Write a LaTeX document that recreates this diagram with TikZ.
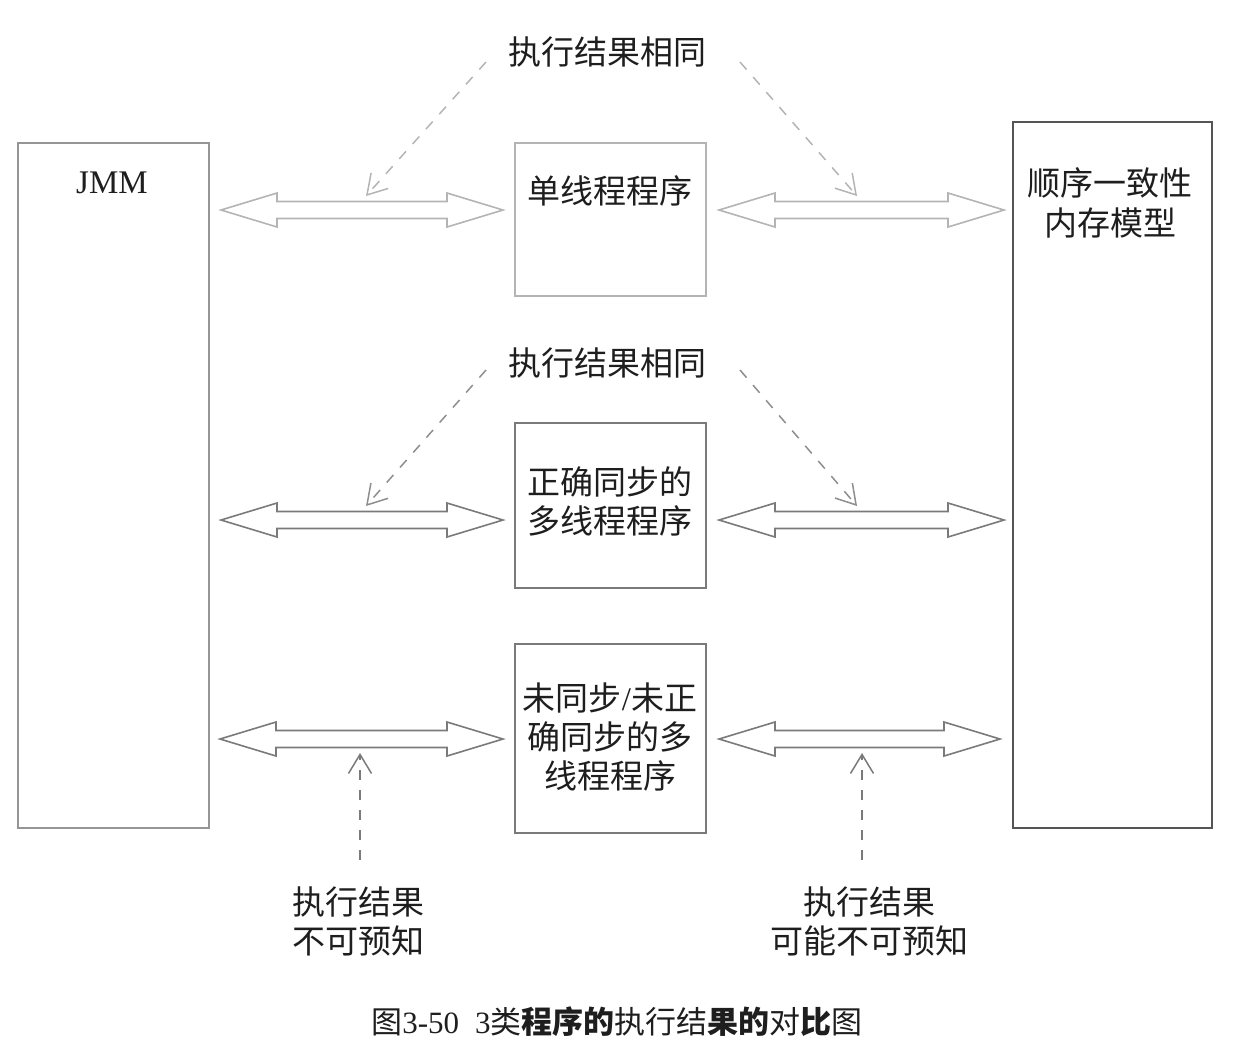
\documentclass[tikz,border=0pt]{standalone}
\usepackage{fontspec}
\setmainfont{Liberation Serif}
\newfontfamily\cjk{Noto Sans CJK SC}
\usetikzlibrary{calc,arrows.meta}

\definecolor{inkc}{HTML}{1E1E1E}
\definecolor{lightline}{HTML}{B4B4B4}
\definecolor{midline}{HTML}{7A7A7A}
\definecolor{darkline}{HTML}{555555}

% hollow double-headed arrow between two named coordinates
\newcommand\dblarrow[3][]{%
  \draw[line width=0.8pt,line join=miter,#1] (#2) -- ($(#2)+(56,-17)$) -- ($(#2)+(56,-8.5)$)
    -- ($(#3)+(-56,-8.5)$) -- ($(#3)+(-56,-17)$) -- (#3) -- ($(#3)+(-56,17)$)
    -- ($(#3)+(-56,8.5)$) -- ($(#2)+(56,8.5)$) -- ($(#2)+(56,17)$) -- cycle;}

\begin{document}
\begin{tikzpicture}[x=0.5pt,y=-0.5pt,
  frame/.style={draw,line width=0.8pt,inner sep=0pt},
  txt/.style={text=inkc,font=\cjk\fontsize{16.5pt}{19.5pt}\selectfont,align=center,inner sep=0pt},
  note/.style={dashed,dash pattern=on 5pt off 5pt,line width=0.75pt,
    -{Straight Barb[length=9.5pt,width=11.5pt,line width=0.75pt]}}]
\useasboundingbox (0,0) rectangle (1234,1057);

% outer columns
\node[frame,draw=midline!80,minimum width=95.5pt,minimum height=342.5pt] (jmm) at (113.5,485.5) {};
\node[text=inkc,font=\fontsize{16.5pt}{19pt}\selectfont,inner sep=0pt] (jmmt) at (112,183) {JMM};
\node[frame,draw=darkline,minimum width=99.5pt,minimum height=353pt] (sc) at (1112.5,475) {};
\node[txt,font=\cjk\fontsize{16.5pt}{20pt}\selectfont] (sct) at (1110,203) {顺序一致性\\内存模型};

% program boxes
\node[frame,draw=lightline,minimum width=95.5pt,minimum height=76.5pt] (p1) at (610.5,219.5) {};
\node[txt] (p1t) at (610,191) {单线程程序};
\node[frame,draw=midline,minimum width=95.5pt,minimum height=82.5pt] (p2) at (610.5,505.5) {};
\node[txt] (p2t) at (610,501) {正确同步的\\多线程程序};
\node[frame,draw=midline,minimum width=95.5pt,minimum height=94.5pt] (p3) at (610.5,738.5) {};
\node[txt] (p3t) at (610,737) {未同步{\rmfamily/}未正\\确同步的多\\线程程序};

% double arrows
\coordinate (a1l) at (221,210);  \coordinate (a1r) at (503,210);
\coordinate (b1l) at (719,210);  \coordinate (b1r) at (1004,210);
\coordinate (a2l) at (221,520);  \coordinate (a2r) at (503,520);
\coordinate (b2l) at (719,520);  \coordinate (b2r) at (1004,520);
\coordinate (a3l) at (220,739);  \coordinate (a3r) at (503,739);
\coordinate (b3l) at (719,739);  \coordinate (b3r) at (1000,739);
\dblarrow[draw=lightline]{a1l}{a1r}
\dblarrow[draw=lightline]{b1l}{b1r}
\dblarrow[draw=midline]{a2l}{a2r}
\dblarrow[draw=midline]{b2l}{b2r}
\dblarrow[draw=midline]{a3l}{a3r}
\dblarrow[draw=midline]{b3l}{b3r}

% result labels
\node[txt] (same1) at (607,52) {执行结果相同};
\node[txt] (same2) at (607,363) {执行结果相同};
\node[txt] (unk1) at (358,921) {执行结果\\不可预知};
\node[txt] (unk2) at (869,921) {执行结果\\可能不可预知};

\coordinate (s1l) at (486,62);  \coordinate (t1l) at (366,196);
\coordinate (s1r) at (740,62);  \coordinate (t1r) at (857,196);
\coordinate (s2l) at (486,370); \coordinate (t2l) at (366,506);
\coordinate (s2r) at (740,370); \coordinate (t2r) at (857,506);
\coordinate (s3l) at (360,860); \coordinate (t3l) at (360,753);
\coordinate (s3r) at (862,860); \coordinate (t3r) at (862,753);
\draw[note,draw=lightline] (s1l) -- (t1l);
\draw[note,draw=lightline] (s1r) -- (t1r);
\draw[note,draw=midline!85] (s2l) -- (t2l);
\draw[note,draw=midline!85] (s2r) -- (t2r);
\draw[note,draw=midline] (s3l) -- (t3l);
\draw[note,draw=midline] (s3r) -- (t3r);

% caption
\node[text=inkc,inner sep=0pt,font=\fontsize{15.5pt}{18pt}\selectfont] (cap) at (617,1022)
  {{\cjk 图}3-50\hspace{8pt}3{\cjk 类\textbf{程序的}执行结\textbf{果的}对\textbf{比}图}};
\end{tikzpicture}
\end{document}
